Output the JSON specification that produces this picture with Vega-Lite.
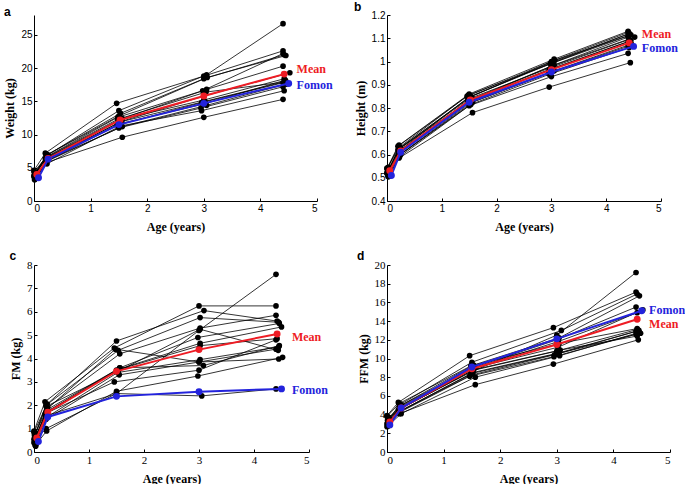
{
  "$schema": "https://vega.github.io/schema/vega-lite/v6.json",
  "padding": {"left": 3, "top": 1, "right": 0, "bottom": 0},
  "config": {
    "view": {"stroke": null},
    "axis": {
      "grid": false, "domainColor": "black", "domainWidth": 1, "tickColor": "black",
      "tickSize": -3, "labelColor": "black", "labelFont": "Liberation Sans", "labelFontSize": 10,
      "labelPadding": 5, "titleFont": "Liberation Serif", "titleFontWeight": "bold",
      "titleFontSize": 12, "titleColor": "black"
    },
    "axisX": {"titlePadding": 8},
    "title": {"font": "Liberation Sans", "fontSize": 12, "fontWeight": "bold", "anchor": "start", "frame": "bounds", "baseline": "alphabetic", "offset": -4, "color": "black"}
  },
  "datasets": {
    "w": [
      {"id":"s1","t":0.02,"v":4.2},{"id":"s1","t":0.22,"v":6.8},{"id":"s1","t":1.5,"v":13.6},{"id":"s1","t":3.05,"v":19.0},{"id":"s1","t":4.4,"v":26.7},
      {"id":"s2","t":0.0,"v":4.6},{"id":"s2","t":0.2,"v":7.2},{"id":"s2","t":1.46,"v":14.7},{"id":"s2","t":3.0,"v":18.8},{"id":"s2","t":4.4,"v":22.6},
      {"id":"s3","t":0.03,"v":4.3},{"id":"s3","t":0.24,"v":7.0},{"id":"s3","t":1.53,"v":13.2},{"id":"s3","t":3.0,"v":18.4},{"id":"s3","t":4.42,"v":22.0},
      {"id":"s4","t":0.01,"v":4.0},{"id":"s4","t":0.22,"v":6.9},{"id":"s4","t":1.5,"v":12.8},{"id":"s4","t":3.06,"v":18.6},{"id":"s4","t":4.45,"v":21.9},
      {"id":"s5","t":0.02,"v":4.1},{"id":"s5","t":0.25,"v":6.8},{"id":"s5","t":1.48,"v":12.6},{"id":"s5","t":2.98,"v":16.6},{"id":"s5","t":4.4,"v":22.2},
      {"id":"s6","t":0.0,"v":3.8},{"id":"s6","t":0.23,"v":6.5},{"id":"s6","t":1.56,"v":12.4},{"id":"s6","t":3.05,"v":16.8},{"id":"s6","t":4.4,"v":20.3},
      {"id":"s7","t":0.04,"v":3.6},{"id":"s7","t":0.22,"v":6.3},{"id":"s7","t":1.55,"v":12.0},{"id":"s7","t":3.0,"v":15.8},{"id":"s7","t":4.52,"v":19.3},
      {"id":"s8","t":0.02,"v":3.9},{"id":"s8","t":0.2,"v":6.4},{"id":"s8","t":1.5,"v":12.2},{"id":"s8","t":3.0,"v":15.2},{"id":"s8","t":4.42,"v":18.4},
      {"id":"s9","t":0.01,"v":3.5},{"id":"s9","t":0.24,"v":6.2},{"id":"s9","t":1.52,"v":11.9},{"id":"s9","t":3.02,"v":15.0},{"id":"s9","t":4.45,"v":18.0},
      {"id":"s10","t":0.03,"v":3.4},{"id":"s10","t":0.22,"v":6.0},{"id":"s10","t":1.47,"v":11.4},{"id":"s10","t":2.96,"v":14.8},{"id":"s10","t":4.4,"v":17.8},
      {"id":"s11","t":0.0,"v":3.7},{"id":"s11","t":0.25,"v":6.2},{"id":"s11","t":1.56,"v":11.2},{"id":"s11","t":3.05,"v":14.4},{"id":"s11","t":4.46,"v":17.6},
      {"id":"s12","t":0.02,"v":3.3},{"id":"s12","t":0.21,"v":5.9},{"id":"s12","t":1.5,"v":11.0},{"id":"s12","t":2.95,"v":14.0},{"id":"s12","t":4.4,"v":17.2},
      {"id":"s13","t":0.03,"v":3.5},{"id":"s13","t":0.23,"v":5.6},{"id":"s13","t":1.53,"v":11.3},{"id":"s13","t":2.96,"v":13.6},{"id":"s13","t":4.42,"v":16.6},
      {"id":"s14","t":0.02,"v":3.6},{"id":"s14","t":0.22,"v":5.8},{"id":"s14","t":1.56,"v":9.6},{"id":"s14","t":3.0,"v":12.6},{"id":"s14","t":4.4,"v":15.3},
      {"id":"s15","t":0.01,"v":3.2},{"id":"s15","t":0.24,"v":6.1},{"id":"s15","t":1.5,"v":11.6},{"id":"s15","t":3.0,"v":14.6},{"id":"s15","t":4.44,"v":18.2},
      {"id":"s16","t":0.0,"v":4.4},{"id":"s16","t":0.22,"v":6.6},{"id":"s16","t":1.48,"v":12.3},{"id":"s16","t":3.04,"v":16.4},{"id":"s16","t":4.42,"v":17.9},
      {"id":"Mean","t":0.05,"v":4.0},{"id":"Mean","t":0.25,"v":6.4},{"id":"Mean","t":1.52,"v":12.2},{"id":"Mean","t":3.0,"v":15.8},{"id":"Mean","t":4.42,"v":19.1},
      {"id":"Fomon","t":0.08,"v":3.5},{"id":"Fomon","t":0.25,"v":6.3},{"id":"Fomon","t":1.5,"v":11.5},{"id":"Fomon","t":3.0,"v":14.7},{"id":"Fomon","t":4.5,"v":17.7}
    ],
    "h": [
      {"id":"s1","t":0.02,"v":0.545},{"id":"s1","t":0.22,"v":0.64},{"id":"s1","t":1.5,"v":0.86},{"id":"s1","t":3.05,"v":1.01},{"id":"s1","t":4.4,"v":1.13},
      {"id":"s2","t":0.0,"v":0.54},{"id":"s2","t":0.2,"v":0.635},{"id":"s2","t":1.46,"v":0.85},{"id":"s2","t":3.0,"v":1.0},{"id":"s2","t":4.4,"v":1.125},
      {"id":"s3","t":0.03,"v":0.535},{"id":"s3","t":0.24,"v":0.63},{"id":"s3","t":1.53,"v":0.85},{"id":"s3","t":3.0,"v":0.995},{"id":"s3","t":4.42,"v":1.12},
      {"id":"s4","t":0.01,"v":0.53},{"id":"s4","t":0.22,"v":0.625},{"id":"s4","t":1.5,"v":0.845},{"id":"s4","t":3.06,"v":1.005},{"id":"s4","t":4.45,"v":1.115},
      {"id":"s5","t":0.02,"v":0.525},{"id":"s5","t":0.25,"v":0.62},{"id":"s5","t":1.48,"v":0.845},{"id":"s5","t":2.98,"v":0.99},{"id":"s5","t":4.4,"v":1.11},
      {"id":"s6","t":0.0,"v":0.52},{"id":"s6","t":0.23,"v":0.625},{"id":"s6","t":1.56,"v":0.84},{"id":"s6","t":3.05,"v":0.985},{"id":"s6","t":4.4,"v":1.105},
      {"id":"s7","t":0.04,"v":0.53},{"id":"s7","t":0.22,"v":0.615},{"id":"s7","t":1.55,"v":0.835},{"id":"s7","t":3.0,"v":0.98},{"id":"s7","t":4.52,"v":1.105},
      {"id":"s8","t":0.02,"v":0.525},{"id":"s8","t":0.2,"v":0.62},{"id":"s8","t":1.5,"v":0.84},{"id":"s8","t":3.0,"v":0.975},{"id":"s8","t":4.42,"v":1.095},
      {"id":"s9","t":0.01,"v":0.515},{"id":"s9","t":0.24,"v":0.61},{"id":"s9","t":1.52,"v":0.83},{"id":"s9","t":3.02,"v":0.97},{"id":"s9","t":4.45,"v":1.09},
      {"id":"s10","t":0.03,"v":0.51},{"id":"s10","t":0.22,"v":0.605},{"id":"s10","t":1.47,"v":0.83},{"id":"s10","t":2.96,"v":0.965},{"id":"s10","t":4.4,"v":1.085},
      {"id":"s11","t":0.0,"v":0.52},{"id":"s11","t":0.25,"v":0.6},{"id":"s11","t":1.56,"v":0.825},{"id":"s11","t":3.05,"v":0.96},{"id":"s11","t":4.46,"v":1.075},
      {"id":"s12","t":0.02,"v":0.51},{"id":"s12","t":0.21,"v":0.595},{"id":"s12","t":1.5,"v":0.82},{"id":"s12","t":2.95,"v":0.95},{"id":"s12","t":4.4,"v":1.065},
      {"id":"s13","t":0.03,"v":0.505},{"id":"s13","t":0.23,"v":0.59},{"id":"s13","t":1.53,"v":0.815},{"id":"s13","t":2.96,"v":0.945},{"id":"s13","t":4.42,"v":1.06},
      {"id":"s14","t":0.02,"v":0.505},{"id":"s14","t":0.22,"v":0.585},{"id":"s14","t":1.56,"v":0.78},{"id":"s14","t":2.96,"v":0.89},{"id":"s14","t":4.44,"v":0.995},
      {"id":"s15","t":0.01,"v":0.515},{"id":"s15","t":0.24,"v":0.6},{"id":"s15","t":1.5,"v":0.81},{"id":"s15","t":3.0,"v":0.935},{"id":"s15","t":4.4,"v":1.035},
      {"id":"s16","t":0.0,"v":0.54},{"id":"s16","t":0.22,"v":0.63},{"id":"s16","t":1.48,"v":0.855},{"id":"s16","t":3.04,"v":0.995},{"id":"s16","t":4.42,"v":1.12},
      {"id":"Mean","t":0.05,"v":0.53},{"id":"Mean","t":0.25,"v":0.615},{"id":"Mean","t":1.52,"v":0.835},{"id":"Mean","t":3.0,"v":0.965},{"id":"Mean","t":4.42,"v":1.08},
      {"id":"Fomon","t":0.08,"v":0.51},{"id":"Fomon","t":0.25,"v":0.61},{"id":"Fomon","t":1.5,"v":0.825},{"id":"Fomon","t":3.0,"v":0.955},{"id":"Fomon","t":4.5,"v":1.065}
    ],
    "fm": [
      {"id":"s1","t":0.02,"v":0.5},{"id":"s1","t":0.22,"v":1.0},{"id":"s1","t":1.5,"v":2.5},{"id":"s1","t":3.0,"v":5.2},{"id":"s1","t":4.4,"v":7.6},
      {"id":"s2","t":0.0,"v":0.9},{"id":"s2","t":0.2,"v":2.15},{"id":"s2","t":1.46,"v":4.45},{"id":"s2","t":3.0,"v":6.25},{"id":"s2","t":4.4,"v":6.25},
      {"id":"s3","t":0.03,"v":0.8},{"id":"s3","t":0.24,"v":2.05},{"id":"s3","t":1.5,"v":4.75},{"id":"s3","t":3.09,"v":6.05},{"id":"s3","t":4.42,"v":5.6},
      {"id":"s4","t":0.01,"v":0.7},{"id":"s4","t":0.22,"v":2.0},{"id":"s4","t":1.53,"v":4.35},{"id":"s4","t":3.02,"v":5.75},{"id":"s4","t":4.45,"v":5.55},
      {"id":"s5","t":0.02,"v":0.6},{"id":"s5","t":0.25,"v":1.9},{"id":"s5","t":1.56,"v":4.2},{"id":"s5","t":3.02,"v":5.3},{"id":"s5","t":4.4,"v":5.85},
      {"id":"s6","t":0.0,"v":0.4},{"id":"s6","t":0.23,"v":1.8},{"id":"s6","t":1.56,"v":3.6},{"id":"s6","t":2.98,"v":4.9},{"id":"s6","t":4.46,"v":5.5},
      {"id":"s7","t":0.04,"v":0.35},{"id":"s7","t":0.22,"v":1.7},{"id":"s7","t":1.55,"v":3.55},{"id":"s7","t":3.02,"v":4.65},{"id":"s7","t":4.5,"v":5.35},
      {"id":"s8","t":0.02,"v":0.3},{"id":"s8","t":0.2,"v":1.6},{"id":"s8","t":1.5,"v":3.5},{"id":"s8","t":3.02,"v":4.55},{"id":"s8","t":4.42,"v":4.85},
      {"id":"s9","t":0.01,"v":0.45},{"id":"s9","t":0.24,"v":1.5},{"id":"s9","t":1.52,"v":3.4},{"id":"s9","t":3.02,"v":3.95},{"id":"s9","t":4.45,"v":4.5},
      {"id":"s10","t":0.03,"v":0.25},{"id":"s10","t":0.22,"v":1.4},{"id":"s10","t":1.55,"v":3.3},{"id":"s10","t":3.0,"v":3.85},{"id":"s10","t":4.4,"v":4.4},
      {"id":"s11","t":0.0,"v":0.55},{"id":"s11","t":0.25,"v":1.75},{"id":"s11","t":1.56,"v":3.6},{"id":"s11","t":3.08,"v":3.7},{"id":"s11","t":4.46,"v":4.55},
      {"id":"s12","t":0.02,"v":0.4},{"id":"s12","t":0.21,"v":1.65},{"id":"s12","t":1.46,"v":3.0},{"id":"s12","t":3.0,"v":3.5},{"id":"s12","t":4.4,"v":4.8},
      {"id":"s13","t":0.03,"v":0.3},{"id":"s13","t":0.23,"v":0.9},{"id":"s13","t":1.5,"v":2.6},{"id":"s13","t":2.98,"v":3.25},{"id":"s13","t":4.52,"v":4.05},
      {"id":"s14","t":0.02,"v":0.65},{"id":"s14","t":0.22,"v":1.55},{"id":"s14","t":1.5,"v":2.5},{"id":"s14","t":3.05,"v":2.4},{"id":"s14","t":4.4,"v":2.7},
      {"id":"s15","t":0.01,"v":0.75},{"id":"s15","t":0.24,"v":1.85},{"id":"s15","t":1.48,"v":4.4},{"id":"s15","t":3.0,"v":3.85},{"id":"s15","t":4.45,"v":3.98},
      {"id":"s16","t":0.0,"v":0.85},{"id":"s16","t":0.22,"v":1.95},{"id":"s16","t":1.53,"v":3.45},{"id":"s16","t":3.02,"v":5.25},{"id":"s16","t":4.44,"v":4.35},
      {"id":"Mean","t":0.05,"v":0.6},{"id":"Mean","t":0.25,"v":1.7},{"id":"Mean","t":1.5,"v":3.45},{"id":"Mean","t":3.0,"v":4.38},{"id":"Mean","t":4.42,"v":5.05},
      {"id":"Fomon","t":0.08,"v":0.45},{"id":"Fomon","t":0.25,"v":1.5},{"id":"Fomon","t":1.5,"v":2.38},{"id":"Fomon","t":3.0,"v":2.58},{"id":"Fomon","t":4.5,"v":2.7}
    ],
    "ffm": [
      {"id":"s1","t":0.02,"v":3.2},{"id":"s1","t":0.22,"v":4.6},{"id":"s1","t":1.5,"v":8.6},{"id":"s1","t":3.0,"v":12.5},{"id":"s1","t":4.4,"v":19.2},
      {"id":"s2","t":0.0,"v":3.9},{"id":"s2","t":0.2,"v":5.3},{"id":"s2","t":1.46,"v":10.3},{"id":"s2","t":2.94,"v":13.3},{"id":"s2","t":4.4,"v":17.1},
      {"id":"s3","t":0.03,"v":3.6},{"id":"s3","t":0.24,"v":5.1},{"id":"s3","t":1.5,"v":9.6},{"id":"s3","t":3.08,"v":13.0},{"id":"s3","t":4.42,"v":16.9},
      {"id":"s4","t":0.01,"v":3.4},{"id":"s4","t":0.22,"v":4.9},{"id":"s4","t":1.53,"v":9.3},{"id":"s4","t":3.04,"v":12.2},{"id":"s4","t":4.46,"v":16.7},
      {"id":"s5","t":0.02,"v":3.3},{"id":"s5","t":0.25,"v":5.0},{"id":"s5","t":1.56,"v":9.1},{"id":"s5","t":3.0,"v":12.0},{"id":"s5","t":4.4,"v":15.5},
      {"id":"s6","t":0.0,"v":3.0},{"id":"s6","t":0.23,"v":4.7},{"id":"s6","t":1.5,"v":8.9},{"id":"s6","t":3.02,"v":11.8},{"id":"s6","t":4.42,"v":14.9},
      {"id":"s7","t":0.04,"v":3.5},{"id":"s7","t":0.22,"v":4.8},{"id":"s7","t":1.55,"v":9.0},{"id":"s7","t":3.02,"v":11.2},{"id":"s7","t":4.52,"v":15.2},
      {"id":"s8","t":0.02,"v":2.9},{"id":"s8","t":0.2,"v":4.5},{"id":"s8","t":1.5,"v":8.7},{"id":"s8","t":3.0,"v":10.8},{"id":"s8","t":4.42,"v":13.1},
      {"id":"s9","t":0.01,"v":3.1},{"id":"s9","t":0.24,"v":4.4},{"id":"s9","t":1.52,"v":8.5},{"id":"s9","t":3.04,"v":10.6},{"id":"s9","t":4.45,"v":13.0},
      {"id":"s10","t":0.03,"v":2.8},{"id":"s10","t":0.22,"v":4.3},{"id":"s10","t":1.47,"v":8.2},{"id":"s10","t":2.96,"v":10.4},{"id":"s10","t":4.4,"v":12.9},
      {"id":"s11","t":0.0,"v":2.7},{"id":"s11","t":0.25,"v":4.1},{"id":"s11","t":1.56,"v":8.0},{"id":"s11","t":3.05,"v":10.3},{"id":"s11","t":4.46,"v":12.8},
      {"id":"s12","t":0.02,"v":3.0},{"id":"s12","t":0.21,"v":4.2},{"id":"s12","t":1.46,"v":8.1},{"id":"s12","t":2.95,"v":10.2},{"id":"s12","t":4.4,"v":12.6},
      {"id":"s13","t":0.03,"v":3.7},{"id":"s13","t":0.23,"v":4.6},{"id":"s13","t":1.53,"v":8.8},{"id":"s13","t":3.06,"v":10.9},{"id":"s13","t":4.42,"v":12.4},
      {"id":"s14","t":0.02,"v":3.2},{"id":"s14","t":0.22,"v":4.1},{"id":"s14","t":1.56,"v":7.2},{"id":"s14","t":2.94,"v":9.4},{"id":"s14","t":4.44,"v":12.0},
      {"id":"s15","t":0.01,"v":2.9},{"id":"s15","t":0.24,"v":4.4},{"id":"s15","t":1.5,"v":8.4},{"id":"s15","t":3.0,"v":10.5},{"id":"s15","t":4.48,"v":12.7},
      {"id":"s16","t":0.0,"v":3.8},{"id":"s16","t":0.22,"v":5.2},{"id":"s16","t":1.48,"v":9.2},{"id":"s16","t":3.04,"v":11.6},{"id":"s16","t":4.42,"v":13.2},
      {"id":"Mean","t":0.05,"v":3.2},{"id":"Mean","t":0.25,"v":4.7},{"id":"Mean","t":1.5,"v":8.9},{"id":"Mean","t":3.0,"v":11.5},{"id":"Mean","t":4.42,"v":14.2},
      {"id":"Fomon","t":0.05,"v":2.9},{"id":"Fomon","t":0.25,"v":4.7},{"id":"Fomon","t":1.5,"v":9.1},{"id":"Fomon","t":3.0,"v":12.1},{"id":"Fomon","t":4.5,"v":15.1}
    ]
  },
  "bounds": "flush",
  "columns": 2,
  "spacing": {"row": 64, "column": 70},
  "resolve": {"scale": {"x": "independent", "y": "independent"}},
  "concat": [
    {
      "width": 283, "height": 186,
      "title": {"text": "a"},
      "data": {"name": "w"},
      "encoding": {
        "x": {"field": "t", "type": "quantitative", "scale": {"domain": [0, 5]}, "axis": {"title": "Age (years)", "values": [0, 1, 2, 3, 4, 5]}},
        "y": {"field": "v", "type": "quantitative", "scale": {"domain": [0, 28]}, "axis": {"title": "Weight (kg)", "values": [0, 5, 10, 15, 20, 25]}}
      },
      "layer": [
        {"transform": [{"filter": "datum.id != 'Mean' && datum.id != 'Fomon'"}], "mark": {"type": "line", "color": "black", "strokeWidth": 0.8}, "encoding": {"detail": {"field": "id"}, "order": {"field": "t"}}},
        {"transform": [{"filter": "datum.id != 'Mean' && datum.id != 'Fomon'"}], "mark": {"type": "circle", "color": "black", "size": 32, "opacity": 1}},
        {"transform": [{"filter": "datum.id == 'Mean' || datum.id == 'Fomon'"}], "mark": {"type": "line", "strokeWidth": 2}, "encoding": {"color": {"field": "id", "scale": {"domain": ["Mean", "Fomon"], "range": ["#ee1c24", "#2323dc"]}, "legend": null}, "order": {"field": "t"}}},
        {"transform": [{"filter": "datum.id == 'Mean' || datum.id == 'Fomon'"}], "mark": {"type": "circle", "size": 48, "opacity": 1}, "encoding": {"color": {"field": "id", "scale": {"domain": ["Mean", "Fomon"], "range": ["#ee1c24", "#2323dc"]}, "legend": null}}},
        {"data": {"values": [{"id": "Mean", "t": 4.64, "v": 19.9}, {"id": "Fomon", "t": 4.64, "v": 17.5}]}, "mark": {"type": "text", "align": "left", "baseline": "middle", "font": "Liberation Serif", "fontWeight": "bold", "fontSize": 12}, "encoding": {"text": {"field": "id"}, "color": {"field": "id", "scale": {"domain": ["Mean", "Fomon"], "range": ["#ee1c24", "#2323dc"]}, "legend": null}}}
      ]
    },
    {
      "width": 274, "height": 186,
      "title": {"text": "b"},
      "data": {"name": "h"},
      "encoding": {
        "x": {"field": "t", "type": "quantitative", "scale": {"domain": [0, 5]}, "axis": {"title": "Age (years)", "values": [0, 1, 2, 3, 4, 5]}},
        "y": {"field": "v", "type": "quantitative", "scale": {"domain": [0.4, 1.2]}, "axis": {"title": "Height (m)", "values": [0.4, 0.5, 0.6, 0.7, 0.8, 0.9, 1, 1.1, 1.2], "format": "~g"}}
      },
      "layer": [
        {"transform": [{"filter": "datum.id != 'Mean' && datum.id != 'Fomon'"}], "mark": {"type": "line", "color": "black", "strokeWidth": 0.8}, "encoding": {"detail": {"field": "id"}, "order": {"field": "t"}}},
        {"transform": [{"filter": "datum.id != 'Mean' && datum.id != 'Fomon'"}], "mark": {"type": "circle", "color": "black", "size": 32, "opacity": 1}},
        {"transform": [{"filter": "datum.id == 'Mean' || datum.id == 'Fomon'"}], "mark": {"type": "line", "strokeWidth": 2}, "encoding": {"color": {"field": "id", "scale": {"domain": ["Mean", "Fomon"], "range": ["#ee1c24", "#2323dc"]}, "legend": null}, "order": {"field": "t"}}},
        {"transform": [{"filter": "datum.id == 'Mean' || datum.id == 'Fomon'"}], "mark": {"type": "circle", "size": 48, "opacity": 1}, "encoding": {"color": {"field": "id", "scale": {"domain": ["Mean", "Fomon"], "range": ["#ee1c24", "#2323dc"]}, "legend": null}}},
        {"data": {"values": [{"id": "Mean", "t": 4.65, "v": 1.118}, {"id": "Fomon", "t": 4.65, "v": 1.058}]}, "mark": {"type": "text", "align": "left", "baseline": "middle", "font": "Liberation Serif", "fontWeight": "bold", "fontSize": 12}, "encoding": {"text": {"field": "id"}, "color": {"field": "id", "scale": {"domain": ["Mean", "Fomon"], "range": ["#ee1c24", "#2323dc"]}, "legend": null}}}
      ]
    },
    {
      "width": 275, "height": 187,
      "title": {"text": "c"},
      "data": {"name": "fm"},
      "encoding": {
        "x": {"field": "t", "type": "quantitative", "scale": {"domain": [0, 5]}, "axis": {"title": "Age (years)", "values": [0, 1, 2, 3, 4, 5], "labelFont": "Liberation Serif", "labelFontSize": 11}},
        "y": {"field": "v", "type": "quantitative", "scale": {"domain": [0, 8]}, "axis": {"title": "FM (kg)", "values": [0, 1, 2, 3, 4, 5, 6, 7, 8], "labelFont": "Liberation Serif", "labelFontSize": 11}}
      },
      "layer": [
        {"transform": [{"filter": "datum.id != 'Mean' && datum.id != 'Fomon'"}], "mark": {"type": "line", "color": "black", "strokeWidth": 0.8}, "encoding": {"detail": {"field": "id"}, "order": {"field": "t"}}},
        {"transform": [{"filter": "datum.id != 'Mean' && datum.id != 'Fomon'"}], "mark": {"type": "circle", "color": "black", "size": 32, "opacity": 1}},
        {"transform": [{"filter": "datum.id == 'Mean' || datum.id == 'Fomon'"}], "mark": {"type": "line", "strokeWidth": 2}, "encoding": {"color": {"field": "id", "scale": {"domain": ["Mean", "Fomon"], "range": ["#ee1c24", "#2323dc"]}, "legend": null}, "order": {"field": "t"}}},
        {"transform": [{"filter": "datum.id == 'Mean' || datum.id == 'Fomon'"}], "mark": {"type": "circle", "size": 48, "opacity": 1}, "encoding": {"color": {"field": "id", "scale": {"domain": ["Mean", "Fomon"], "range": ["#ee1c24", "#2323dc"]}, "legend": null}}},
        {"data": {"values": [{"id": "Mean", "t": 4.69, "v": 4.94}, {"id": "Fomon", "t": 4.69, "v": 2.64}]}, "mark": {"type": "text", "align": "left", "baseline": "middle", "font": "Liberation Serif", "fontWeight": "bold", "fontSize": 12}, "encoding": {"text": {"field": "id"}, "color": {"field": "id", "scale": {"domain": ["Mean", "Fomon"], "range": ["#ee1c24", "#2323dc"]}, "legend": null}}}
      ]
    },
    {
      "width": 283, "height": 187,
      "title": {"text": "d"},
      "data": {"name": "ffm"},
      "encoding": {
        "x": {"field": "t", "type": "quantitative", "scale": {"domain": [0, 5]}, "axis": {"title": "Age (years)", "values": [0, 1, 2, 3, 4, 5], "labelFont": "Liberation Serif", "labelFontSize": 11}},
        "y": {"field": "v", "type": "quantitative", "scale": {"domain": [0, 20]}, "axis": {"title": "FFM (kg)", "values": [0, 2, 4, 6, 8, 10, 12, 14, 16, 18, 20], "labelFont": "Liberation Serif", "labelFontSize": 11}}
      },
      "layer": [
        {"transform": [{"filter": "datum.id != 'Mean' && datum.id != 'Fomon'"}], "mark": {"type": "line", "color": "black", "strokeWidth": 0.8}, "encoding": {"detail": {"field": "id"}, "order": {"field": "t"}}},
        {"transform": [{"filter": "datum.id != 'Mean' && datum.id != 'Fomon'"}], "mark": {"type": "circle", "color": "black", "size": 32, "opacity": 1}},
        {"transform": [{"filter": "datum.id == 'Mean' || datum.id == 'Fomon'"}], "mark": {"type": "line", "strokeWidth": 2}, "encoding": {"color": {"field": "id", "scale": {"domain": ["Mean", "Fomon"], "range": ["#ee1c24", "#2323dc"]}, "legend": null}, "order": {"field": "t"}}},
        {"transform": [{"filter": "datum.id == 'Mean' || datum.id == 'Fomon'"}], "mark": {"type": "circle", "size": 48, "opacity": 1}, "encoding": {"color": {"field": "id", "scale": {"domain": ["Mean", "Fomon"], "range": ["#ee1c24", "#2323dc"]}, "legend": null}}},
        {"data": {"values": [{"id": "Fomon", "t": 4.63, "v": 15.2}, {"id": "Mean", "t": 4.63, "v": 13.65}]}, "mark": {"type": "text", "align": "left", "baseline": "middle", "font": "Liberation Serif", "fontWeight": "bold", "fontSize": 12}, "encoding": {"text": {"field": "id"}, "color": {"field": "id", "scale": {"domain": ["Mean", "Fomon"], "range": ["#ee1c24", "#2323dc"]}, "legend": null}}}
      ]
    }
  ]
}
